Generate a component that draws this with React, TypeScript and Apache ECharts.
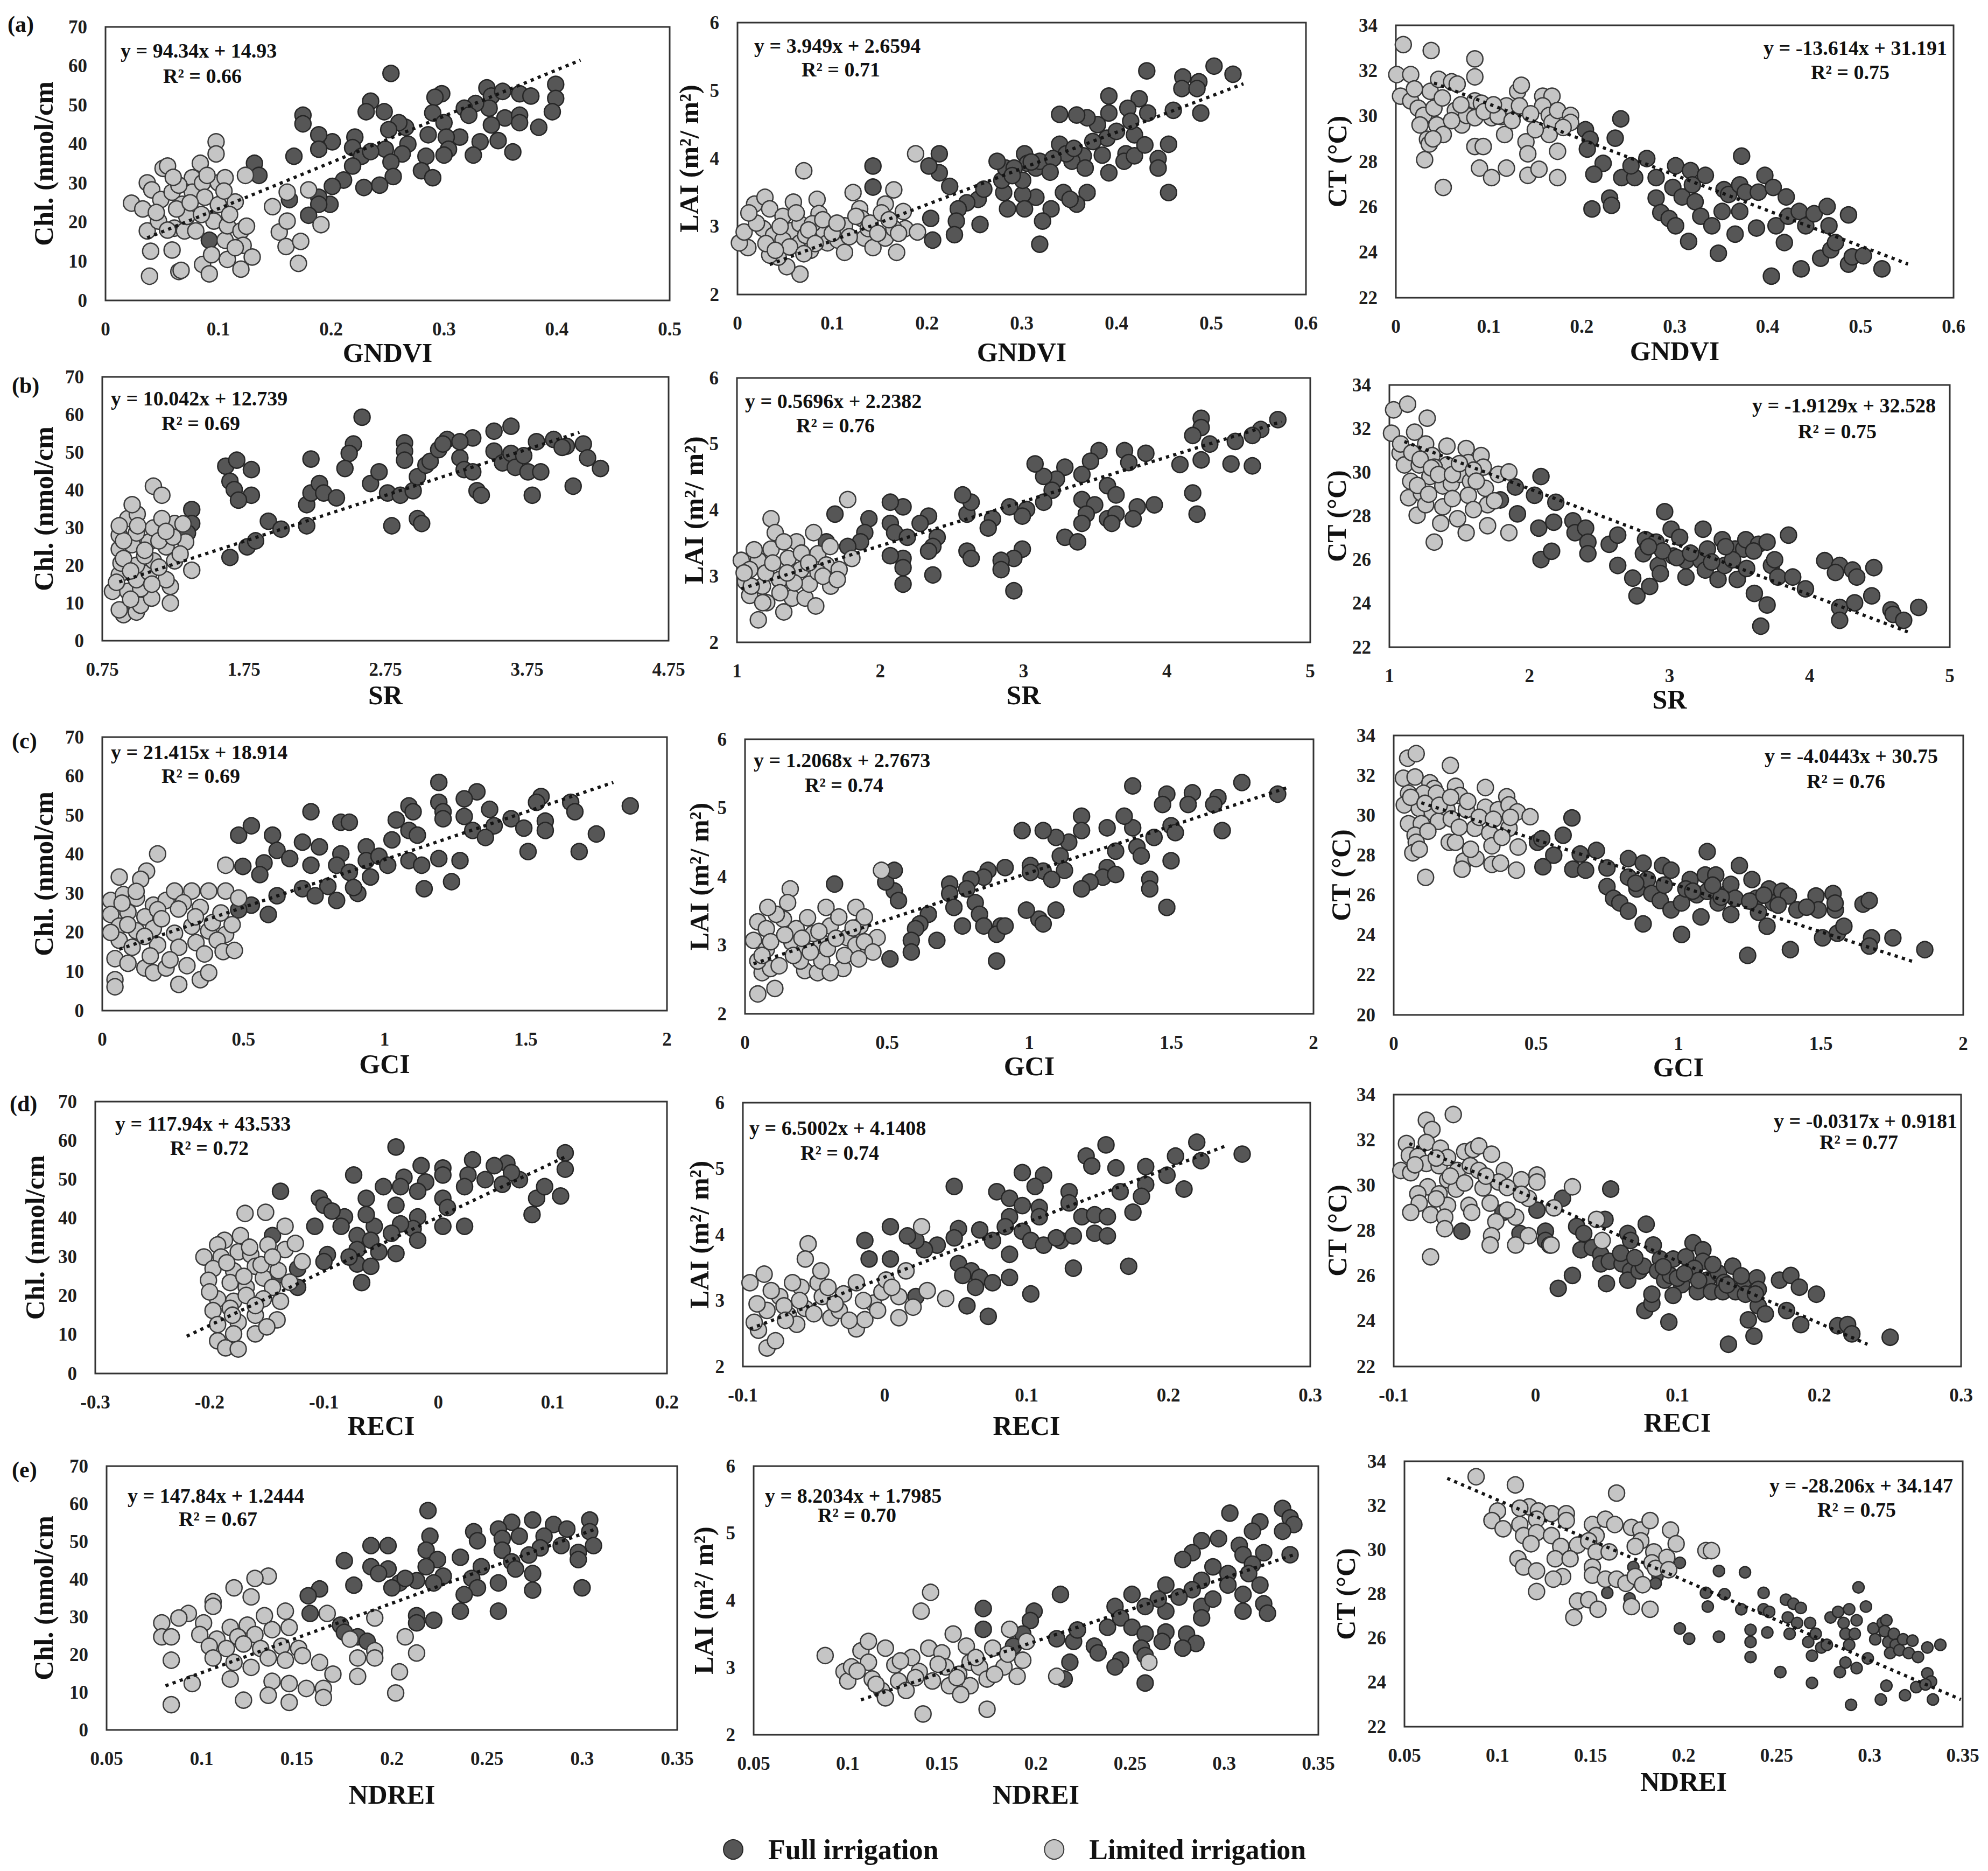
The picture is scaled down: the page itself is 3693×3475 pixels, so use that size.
import React, { useEffect, useRef } from 'react';
import * as echarts from 'echarts';

const W = 3693;
const H = 3475;
const FONT = "'Liberation Serif', 'Times New Roman', serif";

type P = [number, number];

// ---------- (a) GNDVI ----------
const a1Full: P[] = [[0.253,58.1],[0.399,55.3],[0.399,51.7],[0.396,48.3],[0.384,44.3],[0.361,38.0],[0.338,54.4],[0.342,52.3],[0.352,53.5],[0.367,52.9],[0.377,52.3],[0.354,46.7],[0.367,47.4],[0.367,45.5],[0.340,49.2],[0.328,50.4],[0.318,49.2],[0.322,47.4],[0.314,41.8],[0.332,40.6],[0.348,40.9],[0.342,44.9],[0.326,37.2],[0.298,52.9],[0.292,52.0],[0.290,48.0],[0.300,45.5],[0.302,41.8],[0.304,38.7],[0.300,37.2],[0.286,42.4],[0.284,36.9],[0.280,33.2],[0.290,31.4],[0.268,40.0],[0.263,37.5],[0.266,44.3],[0.260,45.5],[0.251,43.7],[0.248,38.7],[0.253,35.4],[0.255,31.7],[0.243,29.5],[0.229,28.9],[0.235,51.0],[0.231,48.3],[0.247,48.3],[0.221,41.8],[0.219,39.1],[0.227,36.9],[0.235,38.1],[0.219,34.4],[0.211,30.8],[0.201,29.2],[0.199,24.6],[0.189,26.4],[0.189,24.6],[0.180,21.8],[0.201,40.6],[0.189,42.4],[0.189,38.7],[0.175,47.4],[0.175,45.2],[0.167,36.9],[0.132,35.1],[0.136,32.0],[0.092,15.4],[0.163,25.8]];
const a1Limited: P[] = [[0.023,24.9],[0.039,6.2],[0.040,12.6],[0.037,17.8],[0.037,30.1],[0.041,28.3],[0.051,33.8],[0.055,34.4],[0.049,25.8],[0.059,27.7],[0.061,18.5],[0.059,12.9],[0.065,7.4],[0.067,7.7],[0.068,24.6],[0.070,17.8],[0.077,31.4],[0.077,27.7],[0.080,17.8],[0.084,35.1],[0.086,30.1],[0.088,26.4],[0.086,9.2],[0.092,6.8],[0.094,11.7],[0.096,20.3],[0.098,40.6],[0.098,37.5],[0.100,30.1],[0.106,31.4],[0.106,15.4],[0.108,19.1],[0.108,10.5],[0.115,25.2],[0.120,17.8],[0.122,14.1],[0.120,8.0],[0.124,32.0],[0.130,11.1],[0.148,24.0],[0.154,17.5],[0.160,13.8],[0.161,20.3],[0.161,27.7],[0.173,15.1],[0.171,9.5],[0.180,28.3],[0.191,19.4],[0.033,23.4],[0.047,20.3],[0.072,21.5],[0.063,23.4],[0.045,22.5],[0.055,18.0],[0.065,29.5],[0.075,25.0],[0.085,22.0],[0.090,32.0],[0.100,24.5],[0.110,22.0],[0.115,13.5],[0.125,19.0],[0.105,28.0],[0.060,31.5]];
const a1Trend: P[] = [[0.037,16.0],[0.421,61.5]];

const a2Full: P[] = [[0.503,5.36],[0.523,5.24],[0.432,5.29],[0.470,5.20],[0.487,5.13],[0.469,5.03],[0.485,5.03],[0.489,4.67],[0.460,4.71],[0.455,4.21],[0.444,4.00],[0.444,3.86],[0.455,3.50],[0.424,4.88],[0.433,4.67],[0.412,4.74],[0.419,4.35],[0.392,4.92],[0.392,4.67],[0.390,4.30],[0.380,4.50],[0.369,4.60],[0.358,4.64],[0.340,4.65],[0.365,4.04],[0.353,3.96],[0.340,4.21],[0.347,4.07],[0.367,3.86],[0.392,3.79],[0.410,4.07],[0.408,3.96],[0.419,4.04],[0.369,3.50],[0.358,3.33],[0.344,3.50],[0.351,3.40],[0.331,3.26],[0.322,3.08],[0.319,2.74],[0.315,3.43],[0.301,3.47],[0.303,3.26],[0.285,3.26],[0.281,3.50],[0.279,3.68],[0.283,3.86],[0.274,3.96],[0.303,4.07],[0.306,3.93],[0.315,3.86],[0.292,3.86],[0.301,3.68],[0.319,3.96],[0.333,4.00],[0.254,3.40],[0.242,3.35],[0.233,3.26],[0.231,3.08],[0.229,2.88],[0.256,3.03],[0.224,3.59],[0.213,3.79],[0.202,3.89],[0.213,4.07],[0.206,2.80],[0.204,3.12],[0.143,3.89],[0.143,3.58],[0.290,3.75],[0.310,3.95],[0.330,3.80],[0.355,4.15],[0.375,4.25],[0.400,4.40],[0.415,4.55],[0.430,4.20],[0.385,4.05],[0.260,3.55]];
const a2Limited: P[] = [[0.188,4.07],[0.070,3.82],[0.066,2.30],[0.052,2.41],[0.043,2.55],[0.034,2.58],[0.011,2.69],[0.002,2.76],[0.007,2.92],[0.018,3.33],[0.029,3.43],[0.034,3.26],[0.027,2.97],[0.038,2.87],[0.048,3.15],[0.059,3.36],[0.057,2.94],[0.066,2.76],[0.066,3.04],[0.077,2.65],[0.072,2.87],[0.084,3.40],[0.086,3.19],[0.091,2.94],[0.095,2.76],[0.106,2.80],[0.113,3.01],[0.113,2.62],[0.122,3.50],[0.129,3.26],[0.131,3.12],[0.134,2.83],[0.143,2.69],[0.138,2.97],[0.156,3.33],[0.156,2.83],[0.165,3.54],[0.168,2.62],[0.175,3.22],[0.177,2.97],[0.190,2.92],[0.165,2.97],[0.048,2.80],[0.079,3.04],[0.020,3.05],[0.030,2.75],[0.045,3.00],[0.055,2.70],[0.062,3.20],[0.075,2.95],[0.082,2.75],[0.090,3.10],[0.100,2.90],[0.105,3.05],[0.118,2.85],[0.125,3.15],[0.140,3.05],[0.148,2.90],[0.152,3.20],[0.160,3.10],[0.170,2.90],[0.012,3.20],[0.040,2.65],[0.070,2.60]];
const a2Trend: P[] = [[0.034,2.44],[0.534,5.10]];

const a3Full: P[] = [[0.242,29.88],[0.204,29.40],[0.209,28.98],[0.206,28.55],[0.236,29.03],[0.223,27.92],[0.213,27.44],[0.211,25.91],[0.230,26.39],[0.232,26.07],[0.243,27.29],[0.257,27.29],[0.253,27.81],[0.270,28.13],[0.280,27.29],[0.280,26.39],[0.285,25.75],[0.294,25.49],[0.301,25.17],[0.298,26.86],[0.301,27.81],[0.308,26.44],[0.317,27.60],[0.319,26.97],[0.322,26.23],[0.333,27.39],[0.328,25.59],[0.340,25.17],[0.347,23.96],[0.315,24.48],[0.353,26.76],[0.358,26.55],[0.351,25.80],[0.365,24.80],[0.372,28.24],[0.370,26.97],[0.376,26.65],[0.370,25.80],[0.390,26.65],[0.397,27.39],[0.388,25.07],[0.406,26.86],[0.409,25.17],[0.420,26.44],[0.422,25.59],[0.418,24.43],[0.434,25.80],[0.441,25.17],[0.450,25.70],[0.464,26.02],[0.466,25.17],[0.487,25.65],[0.457,23.74],[0.468,24.11],[0.473,24.43],[0.404,22.95],[0.436,23.27],[0.487,23.48],[0.491,23.80],[0.503,23.85],[0.523,23.27]];
const a3Limited: P[] = [[0.008,33.15],[0.038,32.89],[0.085,32.52],[0.001,31.83],[0.016,31.83],[0.005,30.88],[0.016,30.67],[0.024,30.35],[0.030,30.03],[0.026,29.61],[0.034,28.98],[0.036,28.77],[0.031,28.08],[0.041,30.35],[0.037,31.09],[0.046,31.62],[0.044,29.61],[0.051,29.19],[0.051,26.86],[0.060,31.51],[0.064,30.25],[0.066,31.41],[0.071,29.61],[0.076,30.03],[0.085,31.73],[0.085,30.67],[0.092,30.57],[0.085,29.93],[0.085,28.66],[0.094,28.66],[0.090,27.71],[0.103,27.29],[0.103,29.93],[0.113,29.98],[0.119,30.45],[0.117,29.19],[0.119,27.71],[0.131,31.09],[0.135,31.36],[0.133,30.45],[0.140,28.87],[0.142,28.34],[0.142,27.39],[0.154,27.66],[0.158,30.88],[0.168,30.88],[0.158,30.45],[0.165,30.03],[0.168,29.72],[0.165,29.19],[0.174,28.45],[0.174,27.29],[0.174,30.25],[0.188,30.03],[0.188,29.72],[0.020,31.20],[0.050,30.80],[0.070,30.50],[0.095,30.20],[0.110,30.00],[0.125,29.80],[0.150,29.40],[0.060,29.80],[0.040,29.00],[0.105,30.50],[0.145,30.10],[0.180,29.50]];
const a3Trend: P[] = [[0.041,31.46],[0.551,23.48]];

// ---------- (b) SR ----------
const b1Full: P[] = [[2.585,59.3],[3.637,56.9],[3.517,55.6],[3.367,53.8],[3.186,53.4],[2.885,52.5],[2.885,50.3],[2.524,52.2],[2.494,49.7],[2.464,45.7],[2.224,48.2],[1.622,46.3],[1.700,47.9],[1.652,42.3],[1.682,40.1],[1.803,45.4],[1.803,38.6],[1.712,37.3],[1.652,22.1],[1.773,24.9],[1.833,26.5],[1.923,31.7],[2.013,29.6],[2.194,30.5],[2.194,36.1],[2.224,39.2],[2.284,41.7],[2.314,39.2],[2.404,37.9],[2.645,41.7],[2.705,44.8],[2.765,39.2],[2.795,30.5],[2.976,32.4],[3.006,31.1],[2.885,47.9],[2.855,38.6],[2.946,39.8],[2.976,43.5],[3.036,46.6],[3.066,47.6],[3.126,50.7],[3.276,48.5],[3.306,45.4],[3.367,44.8],[3.397,39.8],[3.427,38.6],[3.517,50.3],[3.577,47.2],[3.637,49.7],[3.667,46.0],[3.727,49.1],[3.757,44.8],[3.787,38.6],[3.847,44.8],[3.817,52.8],[3.938,53.4],[4.028,51.6],[4.148,52.2],[4.178,48.5],[4.269,45.7],[4.076,41.0],[3.998,51.3],[1.382,34.8],[1.382,31.1],[1.352,28.6],[3.156,52.2],[3.276,52.8]];
const b1Limited: P[] = [[0.900,6.9],[0.991,7.6],[0.870,8.2],[1.021,9.4],[1.099,11.3],[1.231,10.0],[0.822,13.1],[0.930,13.1],[1.021,13.8],[1.231,14.4],[0.870,17.5],[0.991,16.2],[1.081,18.1],[1.201,16.2],[1.382,18.7],[0.882,20.6],[0.991,20.0],[1.111,21.2],[1.261,21.2],[0.870,24.3],[0.961,25.5],[1.081,26.2],[1.201,24.9],[0.870,28.0],[0.991,28.6],[1.111,29.9],[1.261,31.1],[0.930,32.4],[0.997,33.6],[0.961,36.1],[1.171,32.4],[1.111,41.0],[1.171,38.6],[1.339,26.2],[0.900,21.8],[0.850,15.5],[0.950,18.5],[1.050,22.5],[1.150,26.5],[1.250,27.5],[0.900,26.5],[1.000,30.5],[1.050,24.0],[1.150,19.5],[1.300,23.0],[0.950,11.0],[1.100,15.0],[1.200,29.0],[1.320,31.0],[0.870,30.5]];
const b1Trend: P[] = [[0.87,15.6],[4.12,55.3]];

const b2Full: P[] = [[4.774,5.37],[4.655,5.22],[4.596,5.13],[4.477,5.04],[4.299,5.00],[4.239,5.39],[4.239,5.25],[4.180,5.13],[4.091,4.69],[4.239,4.76],[4.447,4.70],[4.596,4.67],[4.180,4.26],[4.210,3.94],[3.912,4.08],[3.793,4.05],[3.853,4.86],[3.704,4.90],[3.734,4.72],[3.526,4.90],[3.467,4.74],[3.407,4.54],[3.288,4.65],[3.229,4.47],[3.140,4.51],[3.080,4.70],[3.199,4.30],[3.140,4.12],[3.021,4.01],[2.991,3.91],[2.902,4.05],[2.783,3.87],[2.753,3.73],[2.605,3.94],[2.634,4.12],[2.575,4.23],[3.585,4.37],[3.645,4.23],[3.407,4.16],[3.496,4.08],[3.437,3.94],[3.585,3.87],[3.645,3.94],[3.764,3.87],[3.615,3.80],[3.288,3.59],[3.377,3.52],[3.407,3.80],[2.991,3.41],[2.932,3.27],[2.843,3.24],[2.843,3.10],[2.932,2.78],[2.605,3.38],[2.634,3.27],[2.397,3.59],[2.367,3.45],[2.337,3.38],[2.367,3.02],[2.337,3.91],[2.278,3.80],[2.159,4.05],[2.070,4.12],[2.070,3.80],[2.100,3.66],[2.189,3.59],[2.159,3.27],[2.159,3.13],[2.159,2.88],[2.070,3.31],[1.921,3.87],[1.892,3.66],[1.862,3.52],[1.773,3.45],[1.684,3.94],[1.624,3.52]];
const b2Limited: P[] = [[1.773,4.16],[1.238,3.87],[1.149,2.34],[1.327,2.46],[1.089,2.71],[1.208,2.60],[1.386,2.67],[1.475,2.67],[1.059,2.92],[1.178,2.85],[1.297,2.95],[1.505,2.88],[1.030,3.24],[1.149,3.24],[1.238,3.41],[1.357,3.27],[1.416,3.52],[1.535,3.66],[1.565,3.34],[1.624,3.17],[1.654,2.85],[1.713,3.10],[1.267,3.66],[1.327,3.52],[1.089,3.10],[1.446,3.10],[1.565,3.06],[1.802,3.27],[1.100,2.85],[1.200,3.05],[1.300,2.75],[1.400,2.90],[1.450,3.35],[1.500,3.20],[1.600,3.00],[1.700,2.95],[1.120,3.40],[1.250,3.20],[1.350,3.05],[1.050,3.05],[1.180,2.60],[1.550,2.55],[1.650,3.45]];
const b2Trend: P[] = [[1.03,2.81],[4.80,5.34]];

const b3Full: P[] = [[1.792,28.74],[1.899,29.33],[1.914,28.10],[2.036,28.95],[2.082,29.81],[2.066,27.45],[2.082,26.01],[2.158,26.39],[2.188,28.63],[2.173,27.72],[2.310,27.78],[2.325,27.24],[2.401,27.45],[2.417,26.81],[2.417,26.28],[2.569,26.71],[2.630,27.13],[2.630,25.74],[2.737,25.16],[2.767,24.35],[2.858,24.78],[2.828,26.92],[2.813,26.28],[2.904,26.81],[2.919,25.74],[2.934,25.37],[2.965,28.20],[3.011,27.40],[3.026,26.17],[3.072,27.03],[3.117,25.96],[3.117,25.21],[3.224,25.96],[3.239,27.40],[3.270,26.49],[3.255,25.53],[3.346,25.10],[3.376,26.92],[3.392,25.74],[3.468,26.49],[3.483,25.10],[3.529,26.49],[3.544,26.92],[3.605,24.46],[3.651,22.96],[3.696,23.93],[3.635,26.71],[3.696,26.81],[3.727,25.74],[3.772,25.21],[3.849,27.13],[3.879,25.21],[3.970,24.67],[4.107,25.96],[4.214,25.74],[4.184,25.42],[4.306,25.53],[4.336,25.21],[4.458,25.64],[4.443,24.35],[4.214,23.82],[4.214,23.23],[4.321,24.03],[4.580,23.71],[4.595,23.50],[4.671,23.23],[4.778,23.82],[2.950,26.40],[3.050,26.10],[3.150,26.30],[3.300,25.90],[3.450,26.00],[3.600,26.40],[3.750,26.00],[2.850,26.60],[3.400,26.60],[3.550,25.60]];
const b3Limited: P[] = [[1.030,32.86],[1.130,33.12],[1.270,32.48],[1.015,31.79],[1.180,31.84],[1.076,30.88],[1.107,30.34],[1.152,29.59],[1.137,28.84],[1.198,28.04],[1.228,29.06],[1.259,28.52],[1.213,30.34],[1.259,31.30],[1.305,30.77],[1.289,29.81],[1.320,26.81],[1.366,27.67],[1.381,29.38],[1.381,28.42],[1.411,31.20],[1.411,30.34],[1.442,29.49],[1.503,29.91],[1.548,31.09],[1.564,30.45],[1.579,29.59],[1.564,28.95],[1.548,27.24],[1.655,30.77],[1.670,30.24],[1.685,29.27],[1.701,28.52],[1.701,27.56],[1.777,29.91],[1.853,30.02],[1.853,27.24],[1.320,30.24],[1.487,27.88],[1.080,31.30],[1.160,30.90],[1.220,30.60],[1.300,30.20],[1.350,29.90],[1.450,29.90],[1.500,30.40],[1.600,30.10],[1.620,29.60],[1.200,29.40],[1.280,29.00],[1.450,28.80],[1.600,28.30],[1.750,28.70]];
const b3Trend: P[] = [[1.107,31.41],[4.70,22.70]];

// ---------- (c) GCI ----------
const c1Full: P[] = [[1.192,58.4],[1.327,56.0],[1.282,54.2],[1.192,53.3],[1.554,54.8],[1.538,53.3],[1.659,53.3],[1.870,52.4],[1.086,52.4],[1.101,50.9],[1.207,50.9],[1.372,51.5],[0.739,50.9],[0.845,48.2],[0.875,48.2],[1.041,48.8],[1.207,49.1],[1.282,49.7],[1.448,49.1],[1.569,48.5],[1.674,50.9],[1.388,47.3],[1.493,46.7],[1.569,46.1],[1.750,45.2],[1.086,46.1],[1.026,43.7],[1.116,44.9],[1.312,46.1],[1.357,44.3],[0.483,44.9],[0.528,47.3],[0.603,44.9],[0.709,43.1],[0.769,41.9],[0.619,41.0],[0.664,38.9],[0.573,37.8],[0.498,36.9],[0.558,34.8],[0.845,40.1],[0.830,37.2],[0.739,37.2],[0.935,41.9],[0.935,38.4],[0.875,35.4],[0.980,39.5],[1.011,37.2],[0.950,34.2],[1.086,38.4],[1.192,38.9],[1.267,38.4],[1.131,37.2],[1.508,40.7],[1.689,40.7],[1.237,33.0],[1.140,31.2],[0.709,31.2],[0.799,31.8],[0.754,29.4],[0.830,28.2],[0.905,30.0],[0.890,31.5],[0.619,29.4],[0.588,24.6],[0.528,27.0],[0.483,25.8]];
const c1Limited: P[] = [[0.196,40.1],[0.437,37.2],[0.157,35.7],[0.060,34.2],[0.136,33.6],[0.030,28.2],[0.075,29.7],[0.121,28.8],[0.181,27.0],[0.226,28.2],[0.256,30.6],[0.317,30.6],[0.377,30.6],[0.437,30.6],[0.483,28.8],[0.287,27.6],[0.347,26.4],[0.030,24.6],[0.091,25.2],[0.151,24.0],[0.196,25.8],[0.060,21.6],[0.121,20.4],[0.181,21.0],[0.256,19.8],[0.317,21.6],[0.377,20.4],[0.437,19.5],[0.060,18.0],[0.106,16.2],[0.196,16.8],[0.271,16.2],[0.332,17.4],[0.407,18.0],[0.362,14.5],[0.428,15.1],[0.468,15.4],[0.045,13.3],[0.091,12.1],[0.151,10.9],[0.181,9.7],[0.226,10.9],[0.045,7.9],[0.045,6.1],[0.271,6.7],[0.347,7.9],[0.377,9.7],[0.090,22.0],[0.150,19.0],[0.210,23.5],[0.270,26.0],[0.330,24.0],[0.390,22.5],[0.120,30.5],[0.240,13.0],[0.300,11.5],[0.420,25.0],[0.070,27.5],[0.170,14.0],[0.030,20.0],[0.460,22.0]];
const c1Trend: P[] = [[0.060,15.7],[1.81,58.4]];

const c2Full: P[] = [[1.748,5.37],[1.364,5.32],[1.484,5.20],[1.574,5.22],[1.664,5.15],[1.874,5.20],[1.469,5.05],[1.559,5.05],[1.649,5.05],[1.679,4.67],[1.499,4.74],[1.514,4.64],[1.439,4.57],[1.364,4.71],[1.334,4.88],[1.274,4.71],[1.379,4.43],[1.499,4.23],[1.484,3.55],[1.424,3.96],[1.424,3.82],[1.394,4.30],[1.304,4.37],[1.274,4.13],[1.259,3.99],[1.214,3.92],[1.304,4.03],[1.184,4.88],[1.184,4.67],[1.184,3.82],[1.109,4.30],[1.139,4.50],[1.094,4.57],[1.049,4.67],[0.975,4.67],[1.004,4.16],[1.049,4.08],[1.124,4.09],[1.079,3.96],[1.094,3.51],[1.034,3.38],[1.049,3.31],[0.990,3.51],[1.004,4.06],[0.915,4.13],[0.855,4.09],[0.840,3.99],[0.795,3.96],[0.780,3.82],[0.720,3.89],[0.720,3.75],[0.810,3.62],[0.735,3.55],[0.825,3.45],[0.765,3.28],[0.840,3.28],[0.900,3.28],[0.885,3.16],[0.915,3.28],[0.885,2.77],[0.675,3.07],[0.645,3.45],[0.615,3.31],[0.600,3.24],[0.585,3.07],[0.585,2.90],[0.525,3.79],[0.540,3.65],[0.495,3.92],[0.525,4.09],[0.510,2.80],[0.315,3.89]];
const c2Limited: P[] = [[0.480,4.09],[0.159,3.82],[0.045,2.29],[0.105,2.37],[0.060,2.60],[0.090,2.66],[0.045,2.77],[0.030,3.07],[0.045,3.34],[0.075,3.24],[0.135,3.38],[0.150,3.62],[0.075,2.94],[0.165,3.04],[0.180,3.24],[0.210,2.94],[0.210,2.63],[0.255,2.60],[0.270,2.77],[0.270,3.04],[0.300,3.28],[0.285,3.55],[0.330,3.41],[0.345,2.66],[0.360,3.11],[0.390,3.00],[0.405,3.28],[0.390,3.55],[0.420,3.41],[0.435,2.94],[0.465,3.11],[0.195,2.77],[0.240,3.17],[0.060,2.85],[0.090,3.05],[0.120,2.70],[0.140,3.15],[0.170,2.85],[0.200,3.10],[0.230,2.90],[0.260,3.20],[0.290,2.95],[0.320,3.10],[0.350,2.85],[0.380,3.25],[0.420,3.05],[0.450,2.90],[0.110,3.45],[0.220,3.40],[0.080,3.55],[0.300,2.60],[0.400,2.80]];
const c2Trend: P[] = [[0.030,2.73],[1.904,5.29]];

const c3Full: P[] = [[0.626,29.87],[0.595,29.00],[0.505,28.65],[0.520,28.82],[0.562,28.00],[0.524,27.42],[0.629,27.30],[0.674,27.25],[0.655,28.06],[0.712,28.24],[0.749,27.36],[0.749,26.43],[0.772,25.84],[0.794,25.61],[0.824,25.20],[0.876,24.56],[1.011,24.03],[0.824,27.83],[0.824,26.90],[0.854,26.31],[0.876,27.60],[0.891,26.78],[0.906,26.08],[0.944,27.48],[0.974,27.25],[0.936,25.73],[0.974,25.26],[1.011,25.61],[1.041,26.78],[1.026,26.31],[1.064,26.02],[1.079,24.91],[1.101,28.18],[1.094,27.01],[1.101,26.19],[1.131,27.01],[1.139,25.61],[1.169,26.08],[1.184,26.54],[1.184,25.03],[1.214,27.48],[1.199,25.84],[1.243,22.98],[1.258,26.78],[1.273,25.84],[1.281,25.14],[1.318,26.31],[1.333,25.61],[1.311,24.44],[1.363,26.19],[1.386,25.96],[1.416,25.26],[1.393,23.27],[1.483,25.96],[1.491,25.26],[1.543,26.08],[1.551,25.26],[1.506,23.86],[1.558,24.09],[1.581,24.44],[1.648,25.55],[1.670,25.73],[1.678,23.86],[1.753,23.86],[1.670,23.45],[1.865,23.27],[0.850,26.60],[0.950,26.50],[1.050,26.20],[1.150,25.90],[1.250,25.70],[1.350,25.50],[1.450,25.40],[1.550,25.60],[1.120,26.50],[1.300,26.00]];
const c3Limited: P[] = [[0.049,32.86],[0.079,33.09],[0.199,32.50],[0.034,31.86],[0.075,31.92],[0.127,31.63],[0.142,31.34],[0.217,31.45],[0.322,31.39],[0.052,31.10],[0.105,31.10],[0.150,31.10],[0.232,30.99],[0.037,30.52],[0.090,30.34],[0.135,30.17],[0.187,30.28],[0.255,30.28],[0.322,30.40],[0.367,30.28],[0.397,30.93],[0.405,30.52],[0.434,30.17],[0.479,29.93],[0.052,29.58],[0.097,29.58],[0.157,29.70],[0.202,29.82],[0.285,29.35],[0.337,29.12],[0.405,29.35],[0.075,29.00],[0.079,28.65],[0.067,28.12],[0.195,28.65],[0.217,28.65],[0.345,28.47],[0.437,28.41],[0.247,27.71],[0.289,27.83],[0.240,27.30],[0.345,27.54],[0.375,27.60],[0.431,27.25],[0.112,26.89],[0.060,30.90],[0.110,30.60],[0.160,30.50],[0.200,30.90],[0.260,30.70],[0.300,29.90],[0.350,29.80],[0.410,29.90],[0.120,29.20],[0.230,29.40],[0.270,28.30],[0.380,28.90],[0.090,28.30]];
const c3Trend: P[] = [[0.097,30.63],[1.820,22.69]];

// ---------- (d) RECI ----------
const d1Full: P[] = [[-0.037,58.3],[0.111,56.8],[0.111,52.6],[0.107,45.7],[0.082,40.9],[0.086,45.1],[0.093,48.1],[0.071,49.9],[0.060,54.1],[0.049,53.5],[0.064,51.7],[0.030,55.0],[0.026,51.1],[0.023,48.1],[0.004,52.9],[0.004,51.1],[-0.015,53.5],[-0.011,49.3],[-0.030,50.5],[-0.033,48.1],[-0.048,48.1],[-0.074,51.1],[-0.018,46.9],[-0.037,43.3],[-0.063,45.1],[0.004,45.1],[0.008,42.7],[0.023,37.9],[0.004,37.9],[-0.018,40.3],[-0.022,37.3],[-0.033,38.5],[-0.041,36.1],[-0.056,37.9],[-0.063,40.9],[-0.082,40.3],[-0.085,37.9],[-0.071,35.5],[-0.059,34.3],[-0.018,34.3],[-0.037,30.9],[-0.052,31.3],[-0.071,31.9],[-0.071,28.2],[-0.059,27.6],[-0.078,30.0],[-0.097,30.6],[-0.100,28.8],[-0.104,45.1],[-0.100,43.3],[-0.093,41.8],[-0.108,37.9],[-0.138,46.9],[-0.067,23.4],[-0.123,27.0],[-0.123,22.2],[-0.145,35.5],[-0.141,25.2],[0.056,48.7],[0.041,49.9]];
const d1Limited: P[] = [[-0.169,41.2],[-0.151,41.5],[-0.134,37.9],[-0.173,35.5],[-0.187,34.3],[-0.193,33.1],[-0.205,30.0],[-0.190,30.0],[-0.175,31.3],[-0.164,30.6],[-0.149,33.1],[-0.134,31.9],[-0.119,28.8],[-0.197,27.0],[-0.179,26.4],[-0.160,27.6],[-0.153,24.6],[-0.201,24.0],[-0.182,23.4],[-0.168,22.2],[-0.145,22.2],[-0.193,19.2],[-0.179,18.6],[-0.168,20.1],[-0.153,19.2],[-0.138,18.6],[-0.197,16.2],[-0.182,16.8],[-0.160,15.0],[-0.141,13.8],[-0.193,12.6],[-0.175,13.2],[-0.160,10.2],[-0.193,8.4],[-0.186,6.6],[-0.175,6.3],[-0.179,10.2],[-0.200,21.0],[-0.185,28.5],[-0.170,25.0],[-0.155,28.0],[-0.140,26.5],[-0.130,23.5],[-0.160,17.5],[-0.150,12.0],[-0.180,15.0],[-0.165,32.5],[-0.145,30.0],[-0.125,33.5]];
const d1Trend: P[] = [[-0.220,9.6],[0.112,55.9]];

const d2Full: P[] = [[0.156,5.36],[0.220,5.40],[0.252,5.22],[0.142,5.19],[0.146,5.04],[0.163,5.01],[0.205,5.19],[0.223,5.12],[0.184,5.03],[0.199,4.90],[0.184,4.76],[0.166,4.65],[0.181,4.58],[0.211,4.69],[0.097,4.94],[0.112,4.90],[0.106,4.73],[0.049,4.73],[0.079,4.65],[0.088,4.55],[0.097,4.44],[0.130,4.65],[0.130,4.48],[0.109,4.41],[0.109,4.27],[0.088,4.27],[0.085,4.12],[0.067,4.07],[0.052,4.09],[0.049,3.95],[0.097,4.05],[0.103,3.91],[0.112,3.84],[0.124,3.91],[0.133,3.98],[0.148,4.02],[0.157,3.98],[0.139,4.27],[0.148,4.30],[0.157,4.27],[0.175,4.34],[0.121,3.95],[0.088,3.70],[0.076,3.91],[0.037,3.84],[0.028,3.77],[0.022,3.91],[0.016,3.98],[0.004,4.12],[-0.014,3.91],[0.052,3.56],[0.061,3.45],[0.067,3.35],[0.055,3.38],[0.064,3.20],[0.076,3.27],[0.088,3.35],[0.103,3.10],[0.133,3.49],[0.172,3.52],[0.058,2.92],[0.073,2.76],[0.022,3.06],[-0.011,3.63],[0.004,3.63]];
const d2Limited: P[] = [[0.026,4.12],[-0.054,3.86],[-0.083,2.28],[-0.077,2.39],[-0.089,2.55],[-0.092,2.67],[-0.095,3.27],[-0.083,2.85],[-0.074,3.06],[-0.068,2.78],[-0.062,2.64],[-0.056,2.88],[-0.059,3.20],[-0.047,3.27],[-0.056,3.63],[-0.044,3.06],[-0.038,2.74],[-0.032,2.85],[-0.029,3.10],[-0.020,3.27],[-0.020,2.57],[-0.014,2.71],[-0.008,2.96],[-0.002,3.13],[0.001,3.31],[0.010,2.74],[0.010,3.06],[0.043,3.03],[-0.065,3.27],[-0.071,2.92],[-0.090,2.95],[-0.080,3.15],[-0.070,2.70],[-0.060,3.00],[-0.050,2.80],[-0.040,3.20],[-0.035,2.95],[-0.025,2.70],[-0.015,3.00],[-0.005,2.85],[0.005,3.20],[0.020,2.90],[0.030,3.15],[-0.085,3.40],[-0.045,3.45],[0.015,3.45]];
const d2Trend: P[] = [[-0.095,2.57],[0.241,5.35]];

const d3Full: P[] = [[0.053,29.83],[0.019,29.42],[-0.023,28.80],[0.001,28.90],[-0.052,27.97],[-0.011,27.87],[0.007,27.97],[0.007,27.56],[0.010,27.36],[0.029,28.18],[0.034,27.87],[0.049,28.49],[0.078,28.28],[0.065,27.87],[0.067,27.56],[0.032,27.15],[0.040,27.25],[0.046,26.94],[0.046,26.53],[0.052,26.64],[0.061,26.53],[0.067,26.22],[0.065,25.81],[0.073,26.22],[0.076,26.43],[0.083,27.36],[0.088,26.74],[0.086,26.22],[0.091,25.81],[0.095,26.02],[0.097,26.74],[0.106,26.84],[0.103,25.61],[0.111,27.46],[0.118,27.15],[0.118,26.64],[0.112,26.33],[0.114,25.30],[0.121,25.81],[0.124,25.30],[0.129,26.12],[0.133,25.71],[0.139,26.43],[0.132,25.30],[0.141,25.30],[0.147,25.81],[0.148,25.19],[0.156,25.91],[0.157,25.40],[0.157,24.68],[0.162,24.32],[0.150,24.06],[0.154,23.34],[0.136,22.98],[0.094,23.96],[0.077,24.47],[0.082,24.78],[0.082,25.19],[0.097,25.14],[0.050,25.66],[0.026,26.02],[0.016,25.45],[0.172,25.81],[0.180,26.02],[0.186,25.50],[0.177,24.47],[0.187,23.85],[0.198,25.19],[0.213,23.80],[0.220,23.85],[0.223,23.44],[0.250,23.29],[0.060,27.00],[0.090,26.40],[0.100,25.90],[0.115,25.80],[0.125,26.50],[0.135,25.60],[0.145,26.00],[0.155,25.20],[0.070,26.80],[0.105,26.10]];
const d3Limited: P[] = [[-0.058,33.12],[-0.077,32.87],[-0.073,32.46],[-0.091,31.84],[-0.077,31.89],[-0.067,31.63],[-0.089,31.32],[-0.083,31.27],[-0.077,30.96],[-0.095,30.65],[-0.088,30.55],[-0.068,30.86],[-0.062,31.22],[-0.050,31.48],[-0.044,31.58],[-0.040,31.73],[-0.031,31.37],[-0.055,30.65],[-0.046,30.86],[-0.040,30.65],[-0.062,30.24],[-0.056,29.83],[-0.076,29.93],[-0.083,29.62],[-0.068,29.62],[-0.062,29.11],[-0.082,29.21],[-0.088,28.80],[-0.074,28.70],[-0.064,28.59],[-0.064,28.08],[-0.047,29.11],[-0.037,29.88],[-0.032,29.21],[-0.022,30.65],[-0.026,30.14],[-0.010,30.24],[0.001,30.45],[0.001,30.14],[-0.028,28.39],[-0.031,27.77],[-0.032,27.36],[-0.014,28.59],[-0.014,27.36],[-0.005,27.77],[0.011,27.36],[0.013,29.00],[0.026,29.93],[-0.005,29.42],[0.043,28.49],[0.047,27.56],[-0.074,26.84],[-0.085,30.90],[-0.070,31.20],[-0.060,30.40],[-0.050,30.10],[-0.035,30.40],[-0.020,29.90],[-0.010,29.60],[-0.070,29.40],[-0.045,28.80],[-0.020,28.90]];
const d3Trend: P[] = [[-0.089,31.84],[0.234,22.98]];

// ---------- (e) NDREI ----------
const e1Full: P[] = [[0.219,58.2],[0.304,55.7],[0.263,55.1],[0.274,55.7],[0.285,54.5],[0.256,53.3],[0.243,52.6],[0.220,51.4],[0.245,50.2],[0.258,50.8],[0.267,51.4],[0.280,51.4],[0.292,53.3],[0.304,52.6],[0.306,48.9],[0.298,47.1],[0.289,48.9],[0.278,48.3],[0.272,46.4],[0.258,47.7],[0.263,44.6],[0.265,42.7],[0.274,41.5],[0.256,39.0],[0.247,43.3],[0.236,45.8],[0.218,47.7],[0.224,45.2],[0.218,43.3],[0.227,40.8],[0.222,39.0],[0.242,40.2],[0.245,37.7],[0.238,35.9],[0.236,31.5],[0.256,31.5],[0.274,37.1],[0.300,37.7],[0.298,45.2],[0.213,39.6],[0.204,39.0],[0.207,40.2],[0.198,42.7],[0.189,43.3],[0.198,48.9],[0.189,48.9],[0.175,44.9],[0.180,38.4],[0.162,37.4],[0.156,35.6],[0.157,30.9],[0.193,41.5],[0.200,37.7],[0.213,30.3],[0.222,29.1],[0.213,28.4],[0.173,27.8],[0.175,25.9],[0.182,24.7],[0.187,23.5]];
const e1Limited: P[] = [[0.135,40.8],[0.128,40.2],[0.117,37.7],[0.126,35.3],[0.106,34.0],[0.106,32.8],[0.093,30.9],[0.088,29.7],[0.079,28.4],[0.079,24.7],[0.084,24.7],[0.101,28.4],[0.115,27.2],[0.124,27.8],[0.133,30.3],[0.144,31.5],[0.166,30.9],[0.191,29.7],[0.099,25.3],[0.108,24.1],[0.119,24.7],[0.128,25.3],[0.137,26.6],[0.146,27.2],[0.104,22.2],[0.113,21.6],[0.122,22.8],[0.131,21.6],[0.142,22.2],[0.151,21.6],[0.178,24.1],[0.191,21.0],[0.106,19.1],[0.117,17.9],[0.126,16.6],[0.135,19.1],[0.144,18.5],[0.153,19.7],[0.162,17.9],[0.182,19.1],[0.191,19.1],[0.213,20.4],[0.207,24.7],[0.084,18.5],[0.115,13.5],[0.137,12.9],[0.146,12.3],[0.155,11.0],[0.164,11.0],[0.169,14.8],[0.182,14.2],[0.204,15.4],[0.095,12.3],[0.122,7.9],[0.135,9.2],[0.146,7.3],[0.164,8.6],[0.202,9.8],[0.084,6.7]];
const e1Trend: P[] = [[0.081,11.7],[0.307,53.3]];

const e2Full: P[] = [[0.303,5.30],[0.331,5.37],[0.335,5.23],[0.337,5.13],[0.319,5.17],[0.331,5.03],[0.315,5.03],[0.288,4.89],[0.297,4.92],[0.283,4.71],[0.278,4.61],[0.308,4.82],[0.310,4.68],[0.321,4.71],[0.335,4.68],[0.315,4.54],[0.294,4.50],[0.302,4.40],[0.313,4.40],[0.288,4.30],[0.283,4.16],[0.302,4.23],[0.319,4.23],[0.310,4.09],[0.321,3.95],[0.323,3.81],[0.310,3.84],[0.288,3.91],[0.288,3.74],[0.294,4.02],[0.276,4.05],[0.269,4.23],[0.269,3.84],[0.265,4.02],[0.258,3.91],[0.251,4.09],[0.242,3.91],[0.245,3.74],[0.238,3.60],[0.251,3.60],[0.258,3.50],[0.269,3.53],[0.280,3.50],[0.285,3.36],[0.278,3.29],[0.267,3.39],[0.256,3.29],[0.231,3.32],[0.233,3.22],[0.245,3.11],[0.242,3.01],[0.258,3.18],[0.220,3.39],[0.222,3.56],[0.218,3.08],[0.215,2.83],[0.258,2.77],[0.211,3.43],[0.199,3.84],[0.197,3.70],[0.172,3.88],[0.172,3.57],[0.213,4.09],[0.193,3.50],[0.188,3.32]];
const e2Limited: P[] = [[0.144,4.12],[0.139,3.84],[0.088,3.18],[0.098,2.94],[0.100,2.80],[0.107,3.25],[0.111,3.39],[0.111,3.08],[0.113,2.83],[0.118,2.66],[0.120,3.29],[0.125,3.04],[0.127,2.80],[0.131,2.66],[0.134,3.15],[0.138,2.94],[0.140,2.31],[0.143,3.29],[0.145,2.80],[0.150,3.22],[0.152,3.01],[0.154,2.73],[0.156,3.50],[0.159,2.90],[0.163,3.32],[0.165,3.08],[0.165,2.73],[0.170,3.01],[0.174,2.83],[0.174,2.38],[0.177,3.29],[0.183,3.01],[0.186,3.57],[0.190,2.87],[0.193,3.11],[0.195,3.39],[0.211,2.87],[0.260,3.08],[0.102,3.01],[0.105,2.95],[0.115,2.75],[0.128,3.10],[0.136,2.85],[0.148,3.05],[0.158,2.85],[0.168,3.15],[0.178,2.90],[0.185,3.20],[0.120,2.55],[0.160,2.60]];
const e2Trend: P[] = [[0.107,2.52],[0.337,4.68]];

const e3Full: P[] = [[0.173,29.22],[0.186,28.79],[0.185,28.48],[0.198,29.41],[0.159,28.05],[0.171,27.80],[0.219,29.04],[0.233,28.98],[0.212,28.05],[0.222,27.99],[0.213,27.43],[0.231,27.31],[0.243,28.05],[0.243,27.31],[0.246,27.19],[0.255,27.74],[0.259,27.56],[0.263,27.37],[0.198,26.44],[0.203,25.98],[0.219,26.07],[0.236,26.38],[0.236,25.83],[0.236,25.15],[0.245,26.26],[0.252,24.47],[0.256,26.94],[0.257,26.20],[0.261,26.69],[0.268,26.69],[0.267,25.83],[0.269,25.21],[0.271,26.20],[0.274,25.58],[0.277,25.70],[0.269,23.98],[0.279,26.94],[0.283,27.19],[0.286,26.69],[0.287,26.20],[0.289,25.70],[0.289,27.31],[0.293,26.81],[0.292,26.20],[0.294,28.30],[0.298,27.43],[0.284,24.47],[0.287,24.90],[0.293,24.65],[0.290,22.99],[0.299,25.09],[0.302,26.44],[0.303,25.95],[0.307,26.69],[0.309,26.81],[0.308,26.32],[0.310,25.83],[0.313,26.20],[0.314,25.70],[0.311,25.33],[0.316,25.46],[0.318,25.95],[0.323,25.89],[0.321,25.33],[0.326,25.15],[0.331,25.58],[0.338,25.70],[0.309,23.85],[0.306,23.23],[0.319,23.42],[0.325,23.79],[0.331,24.41],[0.333,24.04],[0.334,23.23],[0.330,23.91]];
const e3Limited: P[] = [[0.0885,33.30],[0.1096,32.93],[0.164,32.56],[0.100,31.75],[0.097,31.32],[0.103,30.95],[0.112,31.14],[0.117,31.94],[0.112,31.88],[0.122,31.75],[0.129,31.63],[0.137,31.63],[0.137,31.32],[0.121,31.38],[0.114,30.64],[0.121,30.77],[0.129,30.64],[0.118,30.27],[0.134,30.15],[0.143,30.21],[0.151,31.14],[0.158,31.38],[0.163,31.14],[0.153,30.64],[0.149,30.40],[0.153,29.90],[0.160,29.90],[0.172,31.01],[0.177,30.89],[0.182,31.32],[0.177,30.40],[0.174,30.15],[0.184,29.90],[0.193,30.89],[0.196,30.27],[0.212,29.96],[0.215,29.96],[0.111,29.59],[0.114,29.22],[0.121,29.04],[0.131,29.59],[0.139,29.59],[0.151,29.22],[0.135,28.79],[0.130,28.67],[0.121,28.11],[0.151,28.85],[0.158,28.67],[0.164,28.67],[0.169,28.48],[0.174,28.79],[0.178,28.42],[0.183,29.41],[0.185,29.16],[0.191,29.65],[0.192,29.10],[0.143,27.68],[0.149,27.74],[0.141,26.94],[0.154,27.31],[0.172,27.43],[0.182,27.31]];
const e3Trend: P[] = [[0.073,33.23],[0.349,23.23]];

// ---------- texts ----------
const xNames = ['GNDVI', 'SR', 'GCI', 'RECI', 'NDREI'];
const yNames = ['Chl. (nmol/cm', 'LAI (m\u00B2/ m\u00B2)', 'CT (\u00B0C)'];
const rowLabels = ['(a)', '(b)', '(c)', '(d)', '(e)'];
const equations = [
  ['y = 94.34x + 14.93', 'y = 3.949x + 2.6594', 'y = -13.614x + 31.191'],
  ['y = 10.042x + 12.739', 'y = 0.5696x + 2.2382', 'y = -1.9129x + 32.528'],
  ['y = 21.415x + 18.914', 'y = 1.2068x + 2.7673', 'y = -4.0443x + 30.75'],
  ['y = 117.94x + 43.533', 'y = 6.5002x + 4.1408', 'y = -0.0317x + 0.9181'],
  ['y = 147.84x + 1.2444', 'y = 8.2034x + 1.7985', 'y = -28.206x + 34.147'],
];
const rSquared = [
  ['0.66', '0.71', '0.75'],
  ['0.69', '0.76', '0.75'],
  ['0.69', '0.74', '0.76'],
  ['0.72', '0.74', '0.77'],
  ['0.67', '0.70', '0.75'],
];
const legendNames = ['Full irrigation', 'Limited irrigation'];

// axis ranges per row (x) and per column (y)
const xRanges = [
  [[0, 0.5, 0.1], [0, 0.6, 0.1], [0, 0.6, 0.1]],
  [[0.75, 4.75, 1], [1, 5, 1], [1, 5, 1]],
  [[0, 2, 0.5], [0, 2, 0.5], [0, 2, 0.5]],
  [[-0.3, 0.2, 0.1], [-0.1, 0.3, 0.1], [-0.1, 0.3, 0.1]],
  [[0.05, 0.35, 0.05], [0.05, 0.35, 0.05], [0.05, 0.35, 0.05]],
];
const b1TickValues = [0.75, 1.75, 2.75, 3.75, 4.75];
const yRanges = [[0, 70, 10], [2, 6, 1], [22, 34, 2]];
const c3YRange = [20, 34, 2];

const fullData = [[a1Full, a2Full, a3Full], [b1Full, b2Full, b3Full], [c1Full, c2Full, c3Full], [d1Full, d2Full, d3Full], [e1Full, e2Full, e3Full]];
const limitedData = [[a1Limited, a2Limited, a3Limited], [b1Limited, b2Limited, b3Limited], [c1Limited, c2Limited, c3Limited], [d1Limited, d2Limited, d3Limited], [e1Limited, e2Limited, e3Limited]];
const trendData = [[a1Trend, a2Trend, a3Trend], [b1Trend, b2Trend, b3Trend], [c1Trend, c2Trend, c3Trend], [d1Trend, d2Trend, d3Trend], [e1Trend, e2Trend, e3Trend]];

// ---------- layout (pixels) ----------
const boxes = [
  [[196, 50, 1048, 508], [1370, 42, 1056, 505], [2593, 47, 1036, 506]],
  [[190, 700, 1052, 490], [1369, 702, 1065, 491], [2581, 715, 1041, 487]],
  [[190, 1369, 1049, 508], [1384, 1373, 1056, 510], [2589, 1366, 1058, 519]],
  [[177, 2046, 1062, 505], [1380, 2048, 1054, 490], [2589, 2033, 1054, 505]],
  [[198, 2723, 1060, 490], [1400, 2723, 1049, 499], [2609, 2714, 1037, 493]],
];
const xNameGaps = [[68, 82, 74], [76, 73, 68], [74, 68, 68], [72, 85, 79], [95, 86, 77]];
const yNameGaps = [[90, 65, 84], [84, 52, 72], [84, 60, 72], [87, 56, 80], [92, 68, 84]];
const eqPos = [
  [[224, 94, 303, 141], [1401, 85, 1489, 129], [3617, 89, 3437, 134]],
  [[206, 740, 300, 786], [1384, 745, 1479, 790], [3596, 753, 3413, 801]],
  [[206, 1397, 300, 1441], [1400, 1412, 1495, 1458], [3600, 1404, 3429, 1451]],
  [[214, 2087, 316, 2132], [1392, 2095, 1487, 2141], [3636, 2082, 3453, 2121]],
  [[237, 2778, 332, 2821], [1421, 2778, 1519, 2814], [3628, 2759, 3449, 2804]],
];
const rowLabelPos = [[14, 45], [22, 716], [22, 1376], [18, 2050], [22, 2730]];

function buildOption() {
  const grid: any[] = [];
  const xAxis: any[] = [];
  const yAxis: any[] = [];
  const series: any[] = [];
  const graphic: any[] = [];

  const tickLabel = { fontFamily: FONT, fontWeight: 'bold', fontSize: 35, color: '#1e1e1e' };
  const nameStyle = { fontFamily: FONT, fontWeight: 'bold', fontSize: 50, color: '#111' };

  for (let r = 0; r < 5; r++) {
    for (let c = 0; c < 3; c++) {
      const i = r * 3 + c;
      const [left, top, width, height] = boxes[r][c];
      grid.push({ left, top, width, height, show: true, borderColor: '#333', borderWidth: 3, backgroundColor: '#fff' });

      const [xmin, xmax, xint] = xRanges[r][c];
      const xa: any = {
        type: 'value', gridIndex: i, min: xmin, max: xmax,
        name: xNames[r], nameLocation: 'middle', nameGap: xNameGaps[r][c], nameTextStyle: nameStyle,
        axisLine: { show: false }, axisTick: { show: false }, splitLine: { show: false },
        axisLabel: { ...tickLabel, margin: 36 },
      };
      if (r === 1 && c === 0) {
        xa.axisLabel.customValues = b1TickValues;
      } else {
        xa.interval = xint;
      }
      xAxis.push(xa);

      const yr = r === 2 && c === 2 ? c3YRange : yRanges[c];
      yAxis.push({
        type: 'value', gridIndex: i, min: yr[0], max: yr[1], interval: yr[2],
        name: yNames[c], nameLocation: 'middle', nameRotate: 90, nameGap: yNameGaps[r][c], nameTextStyle: nameStyle,
        axisLine: { show: false }, axisTick: { show: false }, splitLine: { show: false },
        axisLabel: { ...tickLabel, margin: 34 },
      });

      const fullSize = r === 4 && c === 2 ? 21 : 30;
      series.push({
        type: 'scatter', name: legendNames[0], xAxisIndex: i, yAxisIndex: i,
        data: fullData[r][c], symbol: 'circle', symbolSize: fullSize,
        itemStyle: { color: '#565656', borderColor: '#262626', borderWidth: 2.5, opacity: 1 },
        emphasis: { disabled: true }, z: 2,
      });
      series.push({
        type: 'scatter', name: legendNames[1], xAxisIndex: i, yAxisIndex: i,
        data: limitedData[r][c], symbol: 'circle', symbolSize: 30,
        itemStyle: { color: '#c5c5c5', borderColor: '#3a3a3a', borderWidth: 2.5, opacity: 1 },
        emphasis: { disabled: true }, z: 3,
      });
      series.push({
        type: 'line', xAxisIndex: i, yAxisIndex: i, data: trendData[r][c],
        symbol: 'none', silent: true, z: 5,
        lineStyle: { color: '#141414', width: 6, type: [6, 8] },
      });

      const [ex, ey, rx, ry] = eqPos[r][c];
      const rightSide = c === 2;
      graphic.push({
        type: 'text', x: ex, y: ey, silent: true, z: 10,
        style: { text: equations[r][c], fontFamily: FONT, fontWeight: 'bold', fontSize: 38, fill: '#111', textAlign: rightSide ? 'right' : 'left', textVerticalAlign: 'middle' },
      });
      graphic.push({
        type: 'text', x: rx, y: ry, silent: true, z: 10,
        style: { text: 'R\u00B2 = ' + rSquared[r][c], fontFamily: FONT, fontWeight: 'bold', fontSize: 38, fill: '#111', textAlign: rightSide ? 'center' : 'left', textVerticalAlign: 'middle' },
      });
    }
    graphic.push({
      type: 'text', x: rowLabelPos[r][0], y: rowLabelPos[r][1], silent: true, z: 10,
      style: { text: rowLabels[r], fontFamily: FONT, fontWeight: 'bold', fontSize: 42, fill: '#111', textAlign: 'left', textVerticalAlign: 'middle' },
    });
  }

  return {
    animation: false,
    backgroundColor: '#fff',
    grid, xAxis, yAxis, series, graphic,
    legend: {
      data: legendNames, left: 1338, top: 3404, icon: 'circle', itemWidth: 36, itemHeight: 36, itemGap: 196,
      selectedMode: false,
      textStyle: { fontFamily: FONT, fontWeight: 'bold', fontSize: 52, color: '#111', padding: [0, 0, 0, 42] },
    },
  };
}

export default function App() {
  const ref = useRef<HTMLDivElement>(null);
  useEffect(() => {
    document.body.style.margin = '0';
    const chart = echarts.init(ref.current as HTMLDivElement, null, { renderer: 'svg', width: W, height: H });
    chart.setOption(buildOption() as any);
    return () => chart.dispose();
  }, []);
  return <div ref={ref} style={{ width: W, height: H, background: '#fff' }} />;
}
